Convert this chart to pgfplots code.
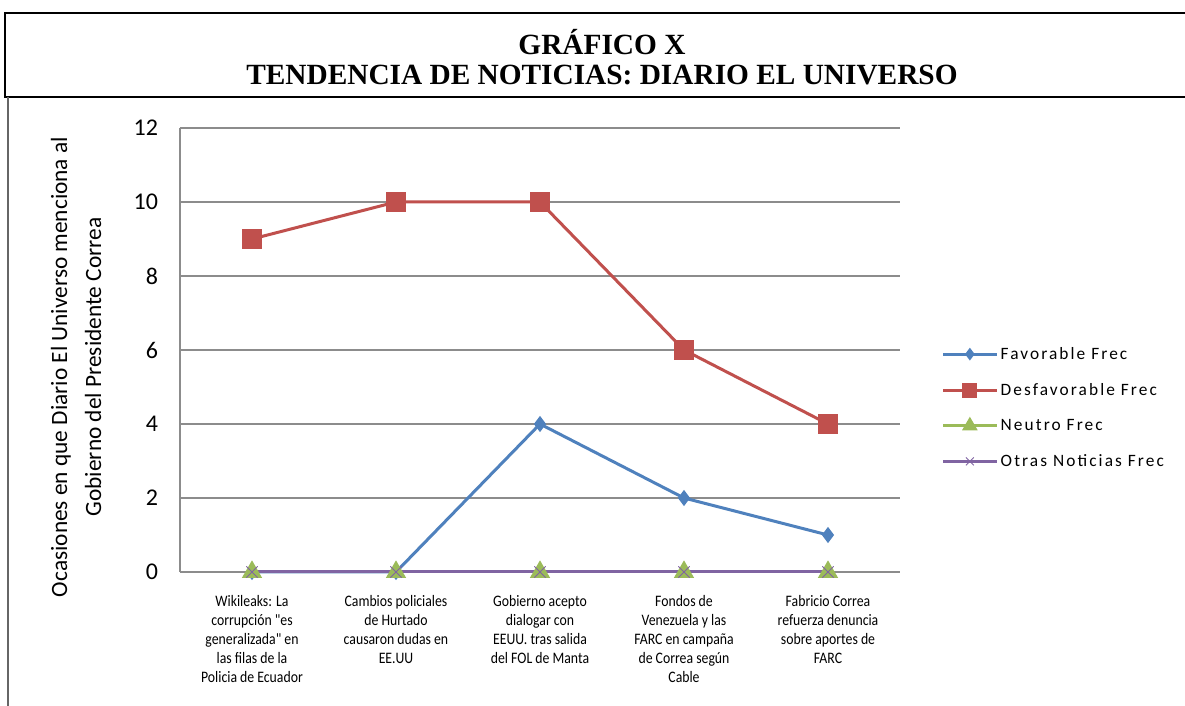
\documentclass[border=0pt]{standalone}
\usepackage{pgfplots}
\pgfplotsset{compat=1.18}
\usepackage{fontspec}
\setmainfont{Carlito}
\newfontfamily\titlefont{Liberation Serif}
\newfontfamily\legfont[LetterSpace=12]{Carlito}
\newfontfamily\catfont[FakeStretch=0.86]{Carlito}
\definecolor{cblue}{HTML}{4F81BD}
\definecolor{cred}{HTML}{C0504D}
\definecolor{cgreen}{HTML}{9BBB59}
\definecolor{cpurple}{HTML}{8064A2}
\begin{document}
\begin{tikzpicture}
\begin{scope}[x=0.75pt,y=-0.75pt,shift={(-135pt,429pt)}]
\useasboundingbox (0,0) rectangle (1185,706);
\draw[line width=1.6pt,black] (1190,13) -- (5,13) -- (5,97) -- (1190,97);
\draw[line width=1.5pt,black!60] (8,97) -- (8,706);
\node[font=\titlefont\bfseries\fontsize{22}{24}\selectfont] at (602,42) {GRÁFICO X};
\node[font=\titlefont\bfseries\fontsize{22}{24}\selectfont] at (602,75) {TENDENCIA DE NOTICIAS: DIARIO EL UNIVERSO};
\node[rotate=90,align=center,font=\fontsize{17.5}{25.5}\selectfont] at (76,367) {Ocasiones en que Diario El Universo menciona al\\Gobierno del Presidente Correa};
\end{scope}
\begin{axis}[
  at={(0pt,0pt)}, anchor=south west,
  scale only axis, width=540pt, height=333pt,
  xmin=-0.5, xmax=4.5, ymin=0, ymax=12,
  xtick={0,1,2,3,4},
  xticklabels={{Wikileaks: La\\corrupción "es\\generalizada" en\\las filas de la\\Policia de Ecuador},
               {Cambios policiales\\de Hurtado\\causaron dudas en\\EE.UU},
               {Gobierno acepto\\dialogar con\\EEUU. tras salida\\del FOL de Manta},
               {Fondos de\\Venezuela y las\\FARC en campaña\\de Correa según\\Cable},
               {Fabricio Correa\\refuerza denuncia\\sobre aportes de\\FARC}},
  xticklabel style={align=center, font=\catfont\fontsize{12}{14.25}\selectfont, yshift=-14pt, anchor=north},
  ytick={0,2,4,6,8,10,12},
  yticklabel style={font=\fontsize{18}{20}\selectfont, xshift=-13pt},
  /pgf/number format/assume math mode=true,
  major tick length=0pt,
  axis x line*=bottom, axis y line*=left,
  axis line style={black!45, line width=0.8pt, -},
  ymajorgrids, grid style={black!45, line width=0.8pt},
  legend style={at={(1.052,0.37)}, anchor=west, draw=none, fill=none,
    font=\legfont\fontsize{13}{15}\selectfont, row sep=12.5pt},
  legend cell align=left,
  legend image code/.code={\draw[mark repeat=2,mark phase=2,/tikz/every mark/.append style={scale=0.7}] plot coordinates {(0pt,0pt) (20pt,0pt) (40pt,0pt)};},
  every axis plot/.append style={line width=2.25pt},
  clip=false,
]
\addplot[cblue, mark=diamond*, mark size=4.2pt, mark options={solid}] coordinates {(0,0) (1,0) (2,4) (3,2) (4,1)};
\addlegendentry{Favorable Frec}
\addplot[cred, mark=square*, mark size=6.5pt] coordinates {(0,9) (1,10) (2,10) (3,6) (4,4)};
\addlegendentry{Desfavorable Frec}
\addplot[cgreen, mark=triangle*, mark size=6.5pt] coordinates {(0,0) (1,0) (2,0) (3,0) (4,0)};
\addlegendentry{Neutro Frec}
\addplot[cpurple, mark=x, mark size=6pt, mark options={line width=0.7pt}] coordinates {(0,0) (1,0) (2,0) (3,0) (4,0)};
\addlegendentry{Otras Noticias Frec}
\end{axis}
\end{tikzpicture}
\end{document}
